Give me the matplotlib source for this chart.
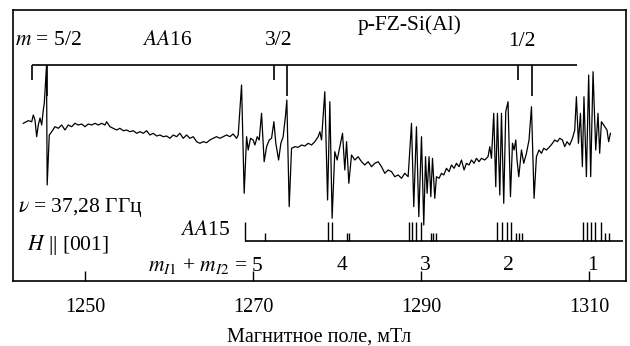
import numpy as np
import matplotlib
matplotlib.use("Agg")
import matplotlib.pyplot as plt

plt.rcParams['font.family'] = ['Liberation Serif', 'DejaVu Serif']
plt.rcParams['mathtext.fontset'] = 'stix'

# EPR trace, field in mT, signal in arbitrary units
field = [1242.66, 1243.25, 1243.66, 1243.85, 1244.05, 1244.25, 1244.44, 1244.65, 1244.85, 1245.04,
         1245.16, 1245.42, 1245.50, 1245.75, 1246.04, 1246.43, 1246.82, 1247.23, 1247.62, 1248.01,
         1248.42, 1248.81, 1249.20, 1249.61, 1250.00, 1250.39, 1250.80, 1251.19, 1251.58, 1251.99,
         1252.38, 1252.58, 1252.97, 1253.37, 1253.77, 1254.16, 1254.56, 1254.96, 1255.35, 1255.75,
         1256.15, 1256.54, 1256.94, 1257.34, 1257.73, 1258.13, 1258.53, 1258.92, 1259.32, 1259.72,
         1260.11, 1260.51, 1260.91, 1261.30, 1261.70, 1262.10, 1262.49, 1262.89, 1263.29, 1263.68,
         1264.08, 1264.48, 1264.87, 1265.26, 1265.67, 1266.06, 1266.45, 1266.86, 1267.25, 1267.64,
         1268.05, 1268.24, 1268.64, 1268.95, 1269.24, 1269.43, 1269.71, 1270.02, 1270.23, 1270.50,
         1270.74, 1271.02, 1271.33, 1271.62, 1271.93, 1272.21, 1272.49, 1272.72, 1273.05, 1273.32,
         1273.59, 1273.88, 1274.03, 1274.31, 1274.59, 1274.99, 1275.38, 1275.78, 1276.17, 1276.57,
         1276.97, 1277.36, 1277.76, 1277.96, 1278.16, 1278.55, 1278.88, 1279.15, 1279.42, 1279.74,
         1280.02, 1280.34, 1280.66, 1280.93, 1281.14, 1281.41, 1281.73, 1282.12, 1282.52, 1282.92,
         1283.31, 1283.71, 1284.11, 1284.50, 1284.90, 1285.30, 1285.69, 1286.09, 1286.49, 1286.88,
         1287.28, 1287.68, 1288.07, 1288.47, 1288.87, 1289.14, 1289.46, 1289.74, 1290.06, 1290.33,
         1290.54, 1290.73, 1290.96, 1291.17, 1291.37, 1291.64, 1291.84, 1292.15, 1292.44, 1292.71,
         1293.03, 1293.34, 1293.63, 1293.94, 1294.22, 1294.53, 1294.82, 1295.13, 1295.41, 1295.72,
         1296.01, 1296.32, 1296.60, 1296.91, 1297.20, 1297.59, 1297.98, 1298.19, 1298.39, 1298.66,
         1298.90, 1299.10, 1299.38, 1299.58, 1299.85, 1300.09, 1300.36, 1300.65, 1300.89, 1301.08,
         1301.28, 1301.43, 1301.64, 1301.96, 1302.23, 1302.55, 1302.86, 1303.15, 1303.46, 1303.74,
         1304.05, 1304.34, 1304.61, 1304.93, 1305.32, 1305.65, 1305.92, 1306.24, 1306.51, 1306.84,
         1307.11, 1307.38, 1307.70, 1308.03, 1308.30, 1308.50, 1308.74, 1308.98, 1309.21, 1309.40,
         1309.69, 1309.96, 1310.20, 1310.48, 1310.80, 1311.07, 1311.27, 1311.48, 1311.87, 1312.14,
         1312.34, 1312.55]
signal = [2.7, 5.3, 4.3, 11, 6, -10.7, 1, 8, 1, 16,
          23, 60, -59, -9, -5.7, -0.7, -2.3, 1, -4, 1,
          -0.7, 2.7, 1, 2, -0.7, 2, 1, 2.7, 1, 2.7,
          1, 4.3, -0.7, -2.3, -4, -2.3, -4.7, -4, -5.7, -4.7,
          -7.3, -5.7, -7.3, -4.7, -9, -7.3, -10, -9, -10.7, -10,
          -12.3, -9, -10.7, -7.3, -12.3, -9, -12.3, -10.7, -15.7, -17.3,
          -15.7, -16.7, -14, -12.3, -10.7, -12.3, -10.7, -9, -10.7, -8,
          -12.3, -9, 41, -67.3, -10.7, -24, -12.3, -14, -19, -10.7,
          -14, 12.7, -35.7, -20.7, -14, -12.3, 4.3, -17.3, -34, -17.3,
          -10.7, 11, 26, -80.7, -22.3, -20.7, -21.3, -19, -20, -17.3,
          -19, -15.7, -10.7, -5.7, -14, 34.3, -74, 24.3, -92.3, -25.7,
          -34, -20.7, -7.3, -44, -15.7, -57.3, -29, -34, -30.7, -35.7,
          -39, -35.7, -40.7, -37.3, -35.7, -40.7, -47.3, -44, -45.7, -50.7,
          -49, -52.3, -47.3, -50.7, 2.7, -80.7, -0.7, -90.7, -10.7, -99,
          -30.7, -67.3, -30.7, -70.7, -32.3, -72.3, -50.7, -52.3, -47.3, -49,
          -42.3, -45.7, -39, -42.3, -37.3, -40.7, -34, -44, -37.3, -39,
          -34, -37.3, -32.3, -35.7, -32.3, -34, -30.7, -20.7, -32.3, 12.7,
          -60.7, 12.7, -69, 12.7, -77.3, 14.3, 24.3, -70.7, -17.3, -24,
          -14, -34, -50.7, -24, -37.3, -27.3, -14, 19.3, -72.3, -30.7,
          -24, -27.3, -22.3, -24, -20.7, -17.3, -14, -15.7, -12.3, -14,
          -20.7, -15.7, -19, -12.3, -4, 29.3, -17.3, 12.7, -40.7, 29.3,
          -50.7, 51, -50.7, 54.3, -24, 12.7, -27.3, 4.3, -0.7, -4,
          -15.7, -7.3]

# AA16 stick diagram (m = 5/2, 3/2, 1/2): short and long sticks
aa16_span = [1243.69, 1308.54]
aa16_short = [1243.69, 1272.49, 1301.52]
aa16_long = [1245.48, 1274.03, 1303.18]
aa16_labels = ['$m$ = 5/2', '3/2', '1/2']
aa16_label_pos = [1241.67, 1273.08, 1301.99]

# AA15 stick diagram
aa15_span = [1269.04, 1314.01]
aa15_tall = [1269.04, 1278.91, 1279.39, 1288.58, 1288.93, 1289.46, 1289.98,
             1299.08, 1299.61, 1300.21, 1300.77, 1309.29, 1309.73, 1310.20,
             1310.74, 1311.45]
aa15_short = [1271.42, 1281.23, 1281.41, 1291.23, 1291.46, 1291.73,
              1301.36, 1301.67, 1301.99, 1311.87, 1312.34]
msum_labels = ['4', '3', '2', '1']
msum_pos = [1280.58, 1290.45, 1300.45, 1310.44]

fig = plt.figure(figsize=(6.3, 3.46), dpi=100)
ax = fig.add_axes([0.0206, 0.188, 0.973, 0.783])

ax.plot(field, signal, color='black', lw=0.9)

# AA16 sticks
ax.hlines(61, aa16_span[0], aa16_span[1], color='black', lw=1.2)
ax.vlines(aa16_short, 46, 61, color='black', lw=1.2)
ax.vlines(aa16_long, 30, 61, color='black', lw=1.2)

# AA15 sticks
ax.hlines(-115, aa15_span[0], aa15_span[1], color='black', lw=1.2)
ax.vlines(aa15_tall, -115, -96, color='black', lw=1.0)
ax.vlines(aa15_short, -115, -107, color='black', lw=1.0)

fs = 15.5
ax.text(aa16_label_pos[0], 86, aa16_labels[0], fontsize=fs, ha='left', va='center')
ax.text(aa16_label_pos[1], 86, aa16_labels[1], fontsize=fs, ha='center', va='center')
ax.text(aa16_label_pos[2], 85, aa16_labels[2], fontsize=fs, ha='center', va='center')
ax.text(1259.76, 86, '$AA$16', fontsize=fs, ha='center', va='center')
ax.text(1288.67, 101, 'p-FZ-Si(Al)', fontsize=fs, ha='center', va='center')
ax.text(1242.03, -82, r'$\nu$ = 37,28 ГГц', fontsize=fs, ha='left', va='center')
ax.text(1243.10, -119, '$H$ || [001]', fontsize=fs, ha='left', va='center')
ax.text(1267.25, -105, '$AA$15', fontsize=fs, ha='right', va='center')
ax.text(1257.5, -140, '$m_{I1}$ + $m_{I2}$ = 5', fontsize=fs, ha='left', va='center')
for lab, pos in zip(msum_labels, msum_pos):
    ax.text(pos, -140, lab, fontsize=fs, ha='center', va='center')

ax.set_xlim(1241.43, 1314.4)
ax.set_ylim(-155, 116)
ax.set_xticks([1250, 1270, 1290, 1310])
ax.set_yticks([])
ax.tick_params(axis='x', direction='in', length=7, width=1, pad=12, labelsize=14.5)
ax.set_xlabel('Магнитное поле, мТл', fontsize=14.5, labelpad=8)
for sp in ax.spines.values():
    sp.set_linewidth(1.2)

fig.savefig('out.png', dpi=100)
